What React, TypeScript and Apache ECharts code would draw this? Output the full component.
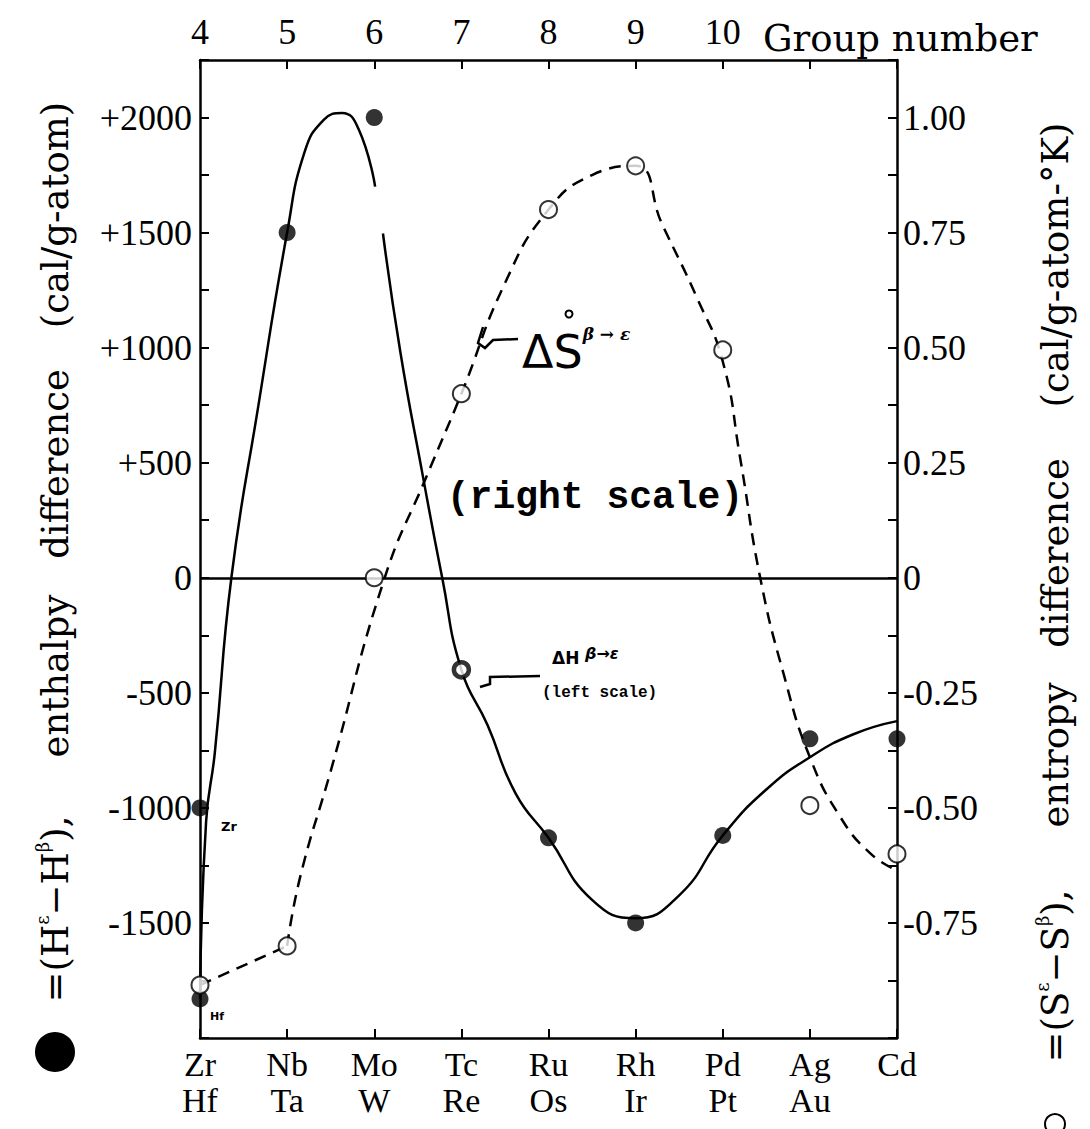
import React, { useEffect, useRef } from 'react';
import * as echarts from 'echarts';

// ---------- axes / categories ----------
const groupNumbers = [4, 5, 6, 7, 8, 9, 10, 11, 12];
const groupTickLabels = ['4', '5', '6', '7', '8', '9', '10', '', ''];
const elementRow1 = ['Zr', 'Nb', 'Mo', 'Tc', 'Ru', 'Rh', 'Pd', 'Ag', 'Cd'];
const elementRow2 = ['Hf', 'Ta', 'W', 'Re', 'Os', 'Ir', 'Pt', 'Au', ''];
const leftTickValues = [-1500, -1000, -500, 0, 500, 1000, 1500, 2000];
const leftTickLabels = ['-1500', '-1000', '-500', '0', '+500', '+1000', '+1500', '+2000'];
const rightTickValues = [-0.75, -0.5, -0.25, 0, 0.25, 0.5, 0.75, 1];
const rightTickLabels = ['-0.75', '-0.50', '-0.25', '0', '0.25', '0.50', '0.75', '1.00'];

// ---------- measured points ----------
// enthalpy difference (left scale, cal/g-atom), filled circles
const enthalpyMetals = ['Zr', 'Hf', 'Nb', 'Mo', 'Tc', 'Ru', 'Rh', 'Pd', 'Ag', 'Cd'];
const enthalpyGroups = [4, 4, 5, 6, 7, 8, 9, 10, 11, 12];
const enthalpyValues = [-1000, -1830, 1500, 2000, -400, -1130, -1500, -1120, -700, -700];

// entropy difference (right scale, cal/g-atom-K), open circles
const entropyMetals = ['Zr/Hf', 'Nb', 'Mo', 'Tc', 'Ru', 'Rh', 'Pd', 'Ag', 'Cd'];
const entropyGroups = [4, 5, 6, 7, 8, 9, 10, 11, 12];
const entropyValues = [-0.885, -0.8, 0, 0.4, 0.8, 0.895, 0.495, -0.495, -0.6];

// ---------- fitted curves ----------
const enthalpyCurveAGroup = [4.0, 4.07, 4.17, 4.36, 4.67, 5.0, 5.2, 5.42, 5.63, 5.82, 6.01];
const enthalpyCurveAValue = [-1830, -1060, -761, 0, 748, 1500, 1850, 1990, 2020, 1950, 1700];
const enthalpyCurveBGroup = [6.1, 6.3, 6.55, 6.78, 7.0, 7.3, 7.625, 8.0, 8.5, 9.0, 9.5, 10.0, 10.5, 11.0, 11.5, 12.0];
const enthalpyCurveBValue = [1496, 980, 458, 0, -400, -640, -939, -1130, -1400, -1480, -1380, -1120, -920, -780, -680, -623];
const entropyCurve1Group = [4.0, 5.0];
const entropyCurve1Value = [-0.885, -0.8];
const entropyCurve2Group = [5.0, 5.15, 5.5, 6.12, 6.6, 7.0, 7.5, 8.0, 8.5, 9.0, 9.3, 9.7, 10.0, 10.2, 10.43, 10.7, 11.0, 11.35, 11.7, 12.0];
const entropyCurve2Value = [-0.8, -0.65, -0.42, 0, 0.22, 0.4, 0.64, 0.8, 0.875, 0.895, 0.77, 0.61, 0.47, 0.26, 0, -0.21, -0.39, -0.52, -0.6, -0.636];

const SERIF = 'Liberation Serif';
const WSERIF = 'DejaVu Serif';

function pickLabel(values: number[], labels: string[], v: number) {
  const i = values.findIndex((t) => Math.abs(t - v) < 1e-6);
  return i >= 0 ? labels[i] : '';
}

function groupIndex(v: number) {
  if (Math.abs(v - Math.round(v)) > 1e-6) return -1;
  return groupNumbers.indexOf(Math.round(v));
}

function pairs(xs: number[], ys: number[]) {
  return xs.map((x, i) => [x, ys[i]]);
}

const titleRich = {
  t: { fontFamily: WSERIF, fontSize: 37, lineHeight: 44, fill: '#000' },
  s: { fontFamily: WSERIF, fontSize: 18, lineHeight: 20, verticalAlign: 'top', fill: '#000' },
};

function vText(x: number, y: number, text: string, size = 37, family = WSERIF) {
  return {
    type: 'text',
    x,
    y,
    rotation: Math.PI / 2,
    style: { text, fontFamily: family, fontSize: size, fill: '#000', align: 'center', verticalAlign: 'middle' },
  };
}

export default function App() {
  const ref = useRef<HTMLDivElement>(null);
  useEffect(() => {
    if (!ref.current) return;
    const chart = echarts.init(ref.current, undefined, { renderer: 'svg' });
    const axisLine = { show: true, onZero: false, lineStyle: { color: '#000', width: 2.5 } };
    const axisTick = { show: true, inside: true, length: 9, lineStyle: { color: '#000', width: 2 } };
    const curveLine = (data: number[][], yAxisIndex: number, dashed: boolean, smooth: number | boolean) => ({
      type: 'line', xAxisIndex: 0, yAxisIndex,
      data, smooth, symbol: 'none', silent: true, clip: false, z: 2,
      lineStyle: { color: '#000', width: 2.5, type: dashed ? [12, 8] : 'solid' },
    });
    const option: any = {
      animation: false,
      backgroundColor: '#fff',
      grid: { left: 200, right: 193, top: 60, bottom: 91, containLabel: false },
      xAxis: [
        {
          type: 'value', position: 'bottom', min: 4, max: 12, interval: 1,
          axisLine, axisTick, splitLine: { show: false },
          axisLabel: {
            margin: 8, color: '#000', fontFamily: SERIF, fontSize: 34, lineHeight: 36,
            formatter: (v: number) => {
              const i = groupIndex(v);
              if (i < 0) return '';
              return elementRow2[i] ? elementRow1[i] + '\n' + elementRow2[i] : elementRow1[i];
            },
          },
        },
        {
          type: 'value', position: 'top', min: 4, max: 12, interval: 1,
          axisLine, axisTick, splitLine: { show: false },
          axisLabel: {
            margin: 10, color: '#000', fontFamily: SERIF, fontSize: 36,
            formatter: (v: number) => {
              const i = groupIndex(v);
              return i < 0 ? '' : groupTickLabels[i];
            },
          },
        },
      ],
      yAxis: [
        {
          type: 'value', position: 'left', min: -2000, max: 2250, interval: 250,
          axisLine, axisTick, splitLine: { show: false },
          axisLabel: {
            margin: 8, color: '#000', fontFamily: SERIF, fontSize: 36,
            formatter: (v: number) => pickLabel(leftTickValues, leftTickLabels, v),
          },
        },
        {
          type: 'value', position: 'right', min: -1, max: 1.125, interval: 0.125,
          axisLine, axisTick, splitLine: { show: false },
          axisLabel: {
            margin: 6, color: '#000', fontFamily: SERIF, fontSize: 36,
            formatter: (v: number) => pickLabel(rightTickValues, rightTickLabels, v),
          },
        },
      ],
      series: [
        {
          name: 'ΔH fit (a)',
          ...curveLine(pairs(enthalpyCurveAGroup, enthalpyCurveAValue), 0, false, 0.5),
          markLine: {
            silent: true, symbol: ['none', 'none'], label: { show: false },
            lineStyle: { color: '#000', width: 2.5, type: 'solid' },
            data: [{ yAxis: 0 }],
          },
        },
        { name: 'ΔH fit (b)', ...curveLine(pairs(enthalpyCurveBGroup, enthalpyCurveBValue), 0, false, 0.5) },
        { name: 'ΔS fit (a)', ...curveLine(pairs(entropyCurve1Group, entropyCurve1Value), 1, true, false) },
        { name: 'ΔS fit (b)', ...curveLine(pairs(entropyCurve2Group, entropyCurve2Value), 1, true, 0.5) },
        {
          name: 'ΔH', type: 'scatter', xAxisIndex: 0, yAxisIndex: 0, clip: false,
          symbol: 'circle', symbolSize: 17, z: 4,
          itemStyle: { color: '#000' },
          data: enthalpyGroups.map((g, i) => ({
            name: enthalpyMetals[i],
            value: [g, enthalpyValues[i]],
            symbolSize: i === 4 ? 15 : 17,
            itemStyle: i === 4 ? { color: '#fff', borderColor: '#000', borderWidth: 4.5 } : undefined,
          })),
        },
        {
          name: 'ΔS', type: 'scatter', xAxisIndex: 0, yAxisIndex: 1, clip: false,
          symbol: 'circle', symbolSize: 17, z: 5,
          itemStyle: { color: '#fff', borderColor: '#000', borderWidth: 2 },
          data: entropyGroups.map((g, i) => ({ name: entropyMetals[i], value: [g, entropyValues[i]] })),
        },
      ],
      graphic: [
        // left axis title
        { type: 'circle', shape: { cx: 55, cy: 1052, r: 20 }, style: { fill: '#000' } },
        {
          type: 'text', x: 55, y: 909, rotation: Math.PI / 2,
          style: { text: '{t|=(H}{s|ε}{t|−H}{s|β}{t|),}', rich: titleRich, align: 'center', verticalAlign: 'middle' },
        },
        vText(55, 676, 'enthalpy'),
        vText(55, 464, 'difference'),
        vText(55, 215, '(cal/g-atom)'),
        // right axis title
        { type: 'circle', shape: { cx: 1055, cy: 1124, r: 10 }, style: { fill: '#fff', stroke: '#000', lineWidth: 2 } },
        {
          type: 'text', x: 1055, y: 976, rotation: Math.PI / 2,
          style: { text: '{t|=(S}{s|ε}{t|−S}{s|β}{t|),}', rich: titleRich, align: 'center', verticalAlign: 'middle' },
        },
        vText(1055, 755, 'entropy'),
        vText(1055, 553, 'difference'),
        vText(1055, 265, '(cal/g-atom-°K)'),
        // top axis name
        {
          type: 'text', x: 763, y: 38,
          style: { text: 'Group number', fontFamily: WSERIF, fontSize: 37, fill: '#000', align: 'left', verticalAlign: 'middle' },
        },
        // ΔS annotation
        {
          type: 'text', x: 522, y: 352,
          style: {
            text: '{a|ΔS}{b|β → ε}',
            rich: {
              a: { fontFamily: 'DejaVu Sans', fontSize: 46, lineHeight: 54, fill: '#000' },
              b: { fontFamily: 'DejaVu Serif', fontSize: 17, fontWeight: 'bold', fontStyle: 'italic', lineHeight: 24, verticalAlign: 'top', fill: '#000' },
            },
            align: 'left', verticalAlign: 'middle',
          },
        },
        { type: 'circle', shape: { cx: 569, cy: 314, r: 3.5 }, style: { fill: 'none', stroke: '#000', lineWidth: 2 } },
        {
          type: 'polyline',
          shape: { points: [[483, 327], [478, 343], [485, 348], [493, 340], [518, 339]] },
          style: { stroke: '#000', lineWidth: 2.5, fill: 'none' },
        },
        {
          type: 'text', x: 595, y: 497,
          style: { text: '(right scale)', fontFamily: 'Liberation Mono', fontWeight: 'bold', fontSize: 38, fill: '#000', align: 'center', verticalAlign: 'middle' },
        },
        // ΔH annotation
        {
          type: 'text', x: 552, y: 658,
          style: {
            text: '{a|ΔH}{b| β→ε}',
            rich: {
              a: { fontFamily: 'DejaVu Sans', fontSize: 17, fontWeight: 'bold', lineHeight: 26, fill: '#000' },
              b: { fontFamily: 'DejaVu Sans', fontSize: 16, fontWeight: 'bold', fontStyle: 'italic', lineHeight: 18, verticalAlign: 'top', fill: '#000' },
            },
            align: 'left', verticalAlign: 'middle',
          },
        },
        {
          type: 'text', x: 542, y: 693,
          style: { text: '(left scale)', fontFamily: 'Liberation Mono', fontWeight: 'bold', fontSize: 16, fill: '#000', align: 'left', verticalAlign: 'middle' },
        },
        {
          type: 'polyline',
          shape: { points: [[480, 687], [490, 684], [490, 677], [540, 676]] },
          style: { stroke: '#000', lineWidth: 2.5, fill: 'none' },
        },
        // small element tags
        {
          type: 'text', x: 221, y: 826,
          style: { text: 'Zr', fontFamily: 'DejaVu Sans', fontWeight: 'bold', fontSize: 13, fill: '#000', align: 'left', verticalAlign: 'middle' },
        },
        {
          type: 'text', x: 210, y: 1016,
          style: { text: 'Hf', fontFamily: 'DejaVu Sans', fontWeight: 'bold', fontSize: 11, fill: '#000', align: 'left', verticalAlign: 'middle' },
        },
      ],
    };
    chart.setOption(option);
    return () => chart.dispose();
  }, []);
  return (
    <div
      ref={ref}
      style={{ position: 'absolute', left: 0, top: 0, width: 1090, height: 1129, background: '#fff' }}
    />
  );
}
